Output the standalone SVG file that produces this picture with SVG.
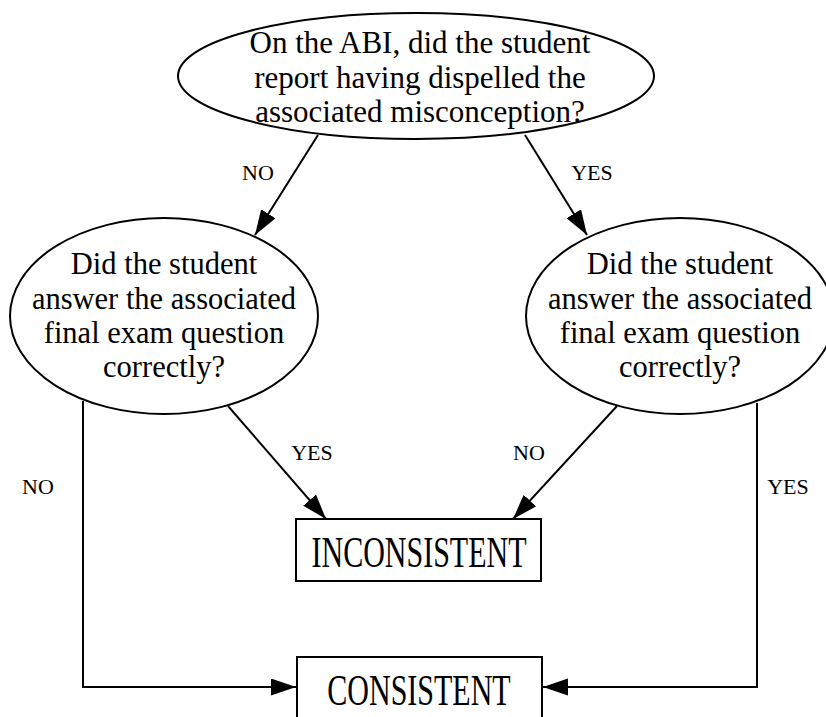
<svg xmlns="http://www.w3.org/2000/svg" width="826" height="717" viewBox="0 0 826 717">
<defs>
<style>
.shape{fill:#fff;stroke:#000;stroke-width:2}
.t{font-family:"Liberation Serif","Times New Roman",serif;fill:#000;text-anchor:middle}
.q{font-size:31px}
.q2{font-size:30.5px}
.lbl{font-size:22px}
.box{font-size:45px}
.c{fill:none;stroke:#000;stroke-width:2}
</style>
<marker id="ah" markerUnits="userSpaceOnUse" markerWidth="26" markerHeight="18" refX="25" refY="8.5" orient="auto">
<path d="M0,0 L25,8.5 L0,17 z" fill="#000"/>
</marker>
</defs>
<rect width="826" height="717" fill="#fff"/>
<g id="connectors">
<line class="c" x1="318" y1="135" x2="255" y2="235" marker-end="url(#ah)"/>
<line class="c" x1="525" y1="135" x2="587" y2="235" marker-end="url(#ah)"/>
<line class="c" x1="228" y1="406" x2="326" y2="519" marker-end="url(#ah)"/>
<line class="c" x1="617" y1="406" x2="513" y2="519" marker-end="url(#ah)"/>
<polyline class="c" points="83,401 83,687 296,687" marker-end="url(#ah)"/>
<polyline class="c" points="757,403 757,687 543,687" marker-end="url(#ah)"/>
<text class="t lbl" x="258" y="180">NO</text>
<text class="t lbl" x="592" y="180">YES</text>
<text class="t lbl" x="312" y="460">YES</text>
<text class="t lbl" x="529" y="460">NO</text>
<text class="t lbl" x="38" y="494">NO</text>
<text class="t lbl" x="788" y="494">YES</text>
</g>
<g id="q1">
<ellipse class="shape" cx="416" cy="76" rx="238" ry="63"/>
<text class="t q" x="420" y="53">On the ABI, did the student</text>
<text class="t q" x="420" y="88">report having dispelled the</text>
<text class="t q" x="420" y="122">associated misconception?</text>
</g>
<g id="q2">
<ellipse class="shape" cx="164" cy="316" rx="154" ry="98"/>
<text class="t q2" x="164" y="274">Did the student</text>
<text class="t q2" x="164" y="309">answer the associated</text>
<text class="t q2" x="164" y="343">final exam question</text>
<text class="t q2" x="164" y="377">correctly?</text>
</g>
<g id="q3">
<ellipse class="shape" cx="680" cy="316" rx="154" ry="98"/>
<text class="t q2" x="680" y="274">Did the student</text>
<text class="t q2" x="680" y="309">answer the associated</text>
<text class="t q2" x="680" y="343">final exam question</text>
<text class="t q2" x="680" y="377">correctly?</text>
</g>
<g id="inconsistent">
<rect class="shape" x="296" y="519" width="245" height="62"/>
<text class="t box" transform="translate(419,567) scale(0.667,1)">INCONSISTENT</text>
</g>
<g id="consistent">
<rect class="shape" x="297" y="657" width="245" height="62"/>
<text class="t box" transform="translate(419,705) scale(0.667,1)">CONSISTENT</text>
</g>
</svg>
